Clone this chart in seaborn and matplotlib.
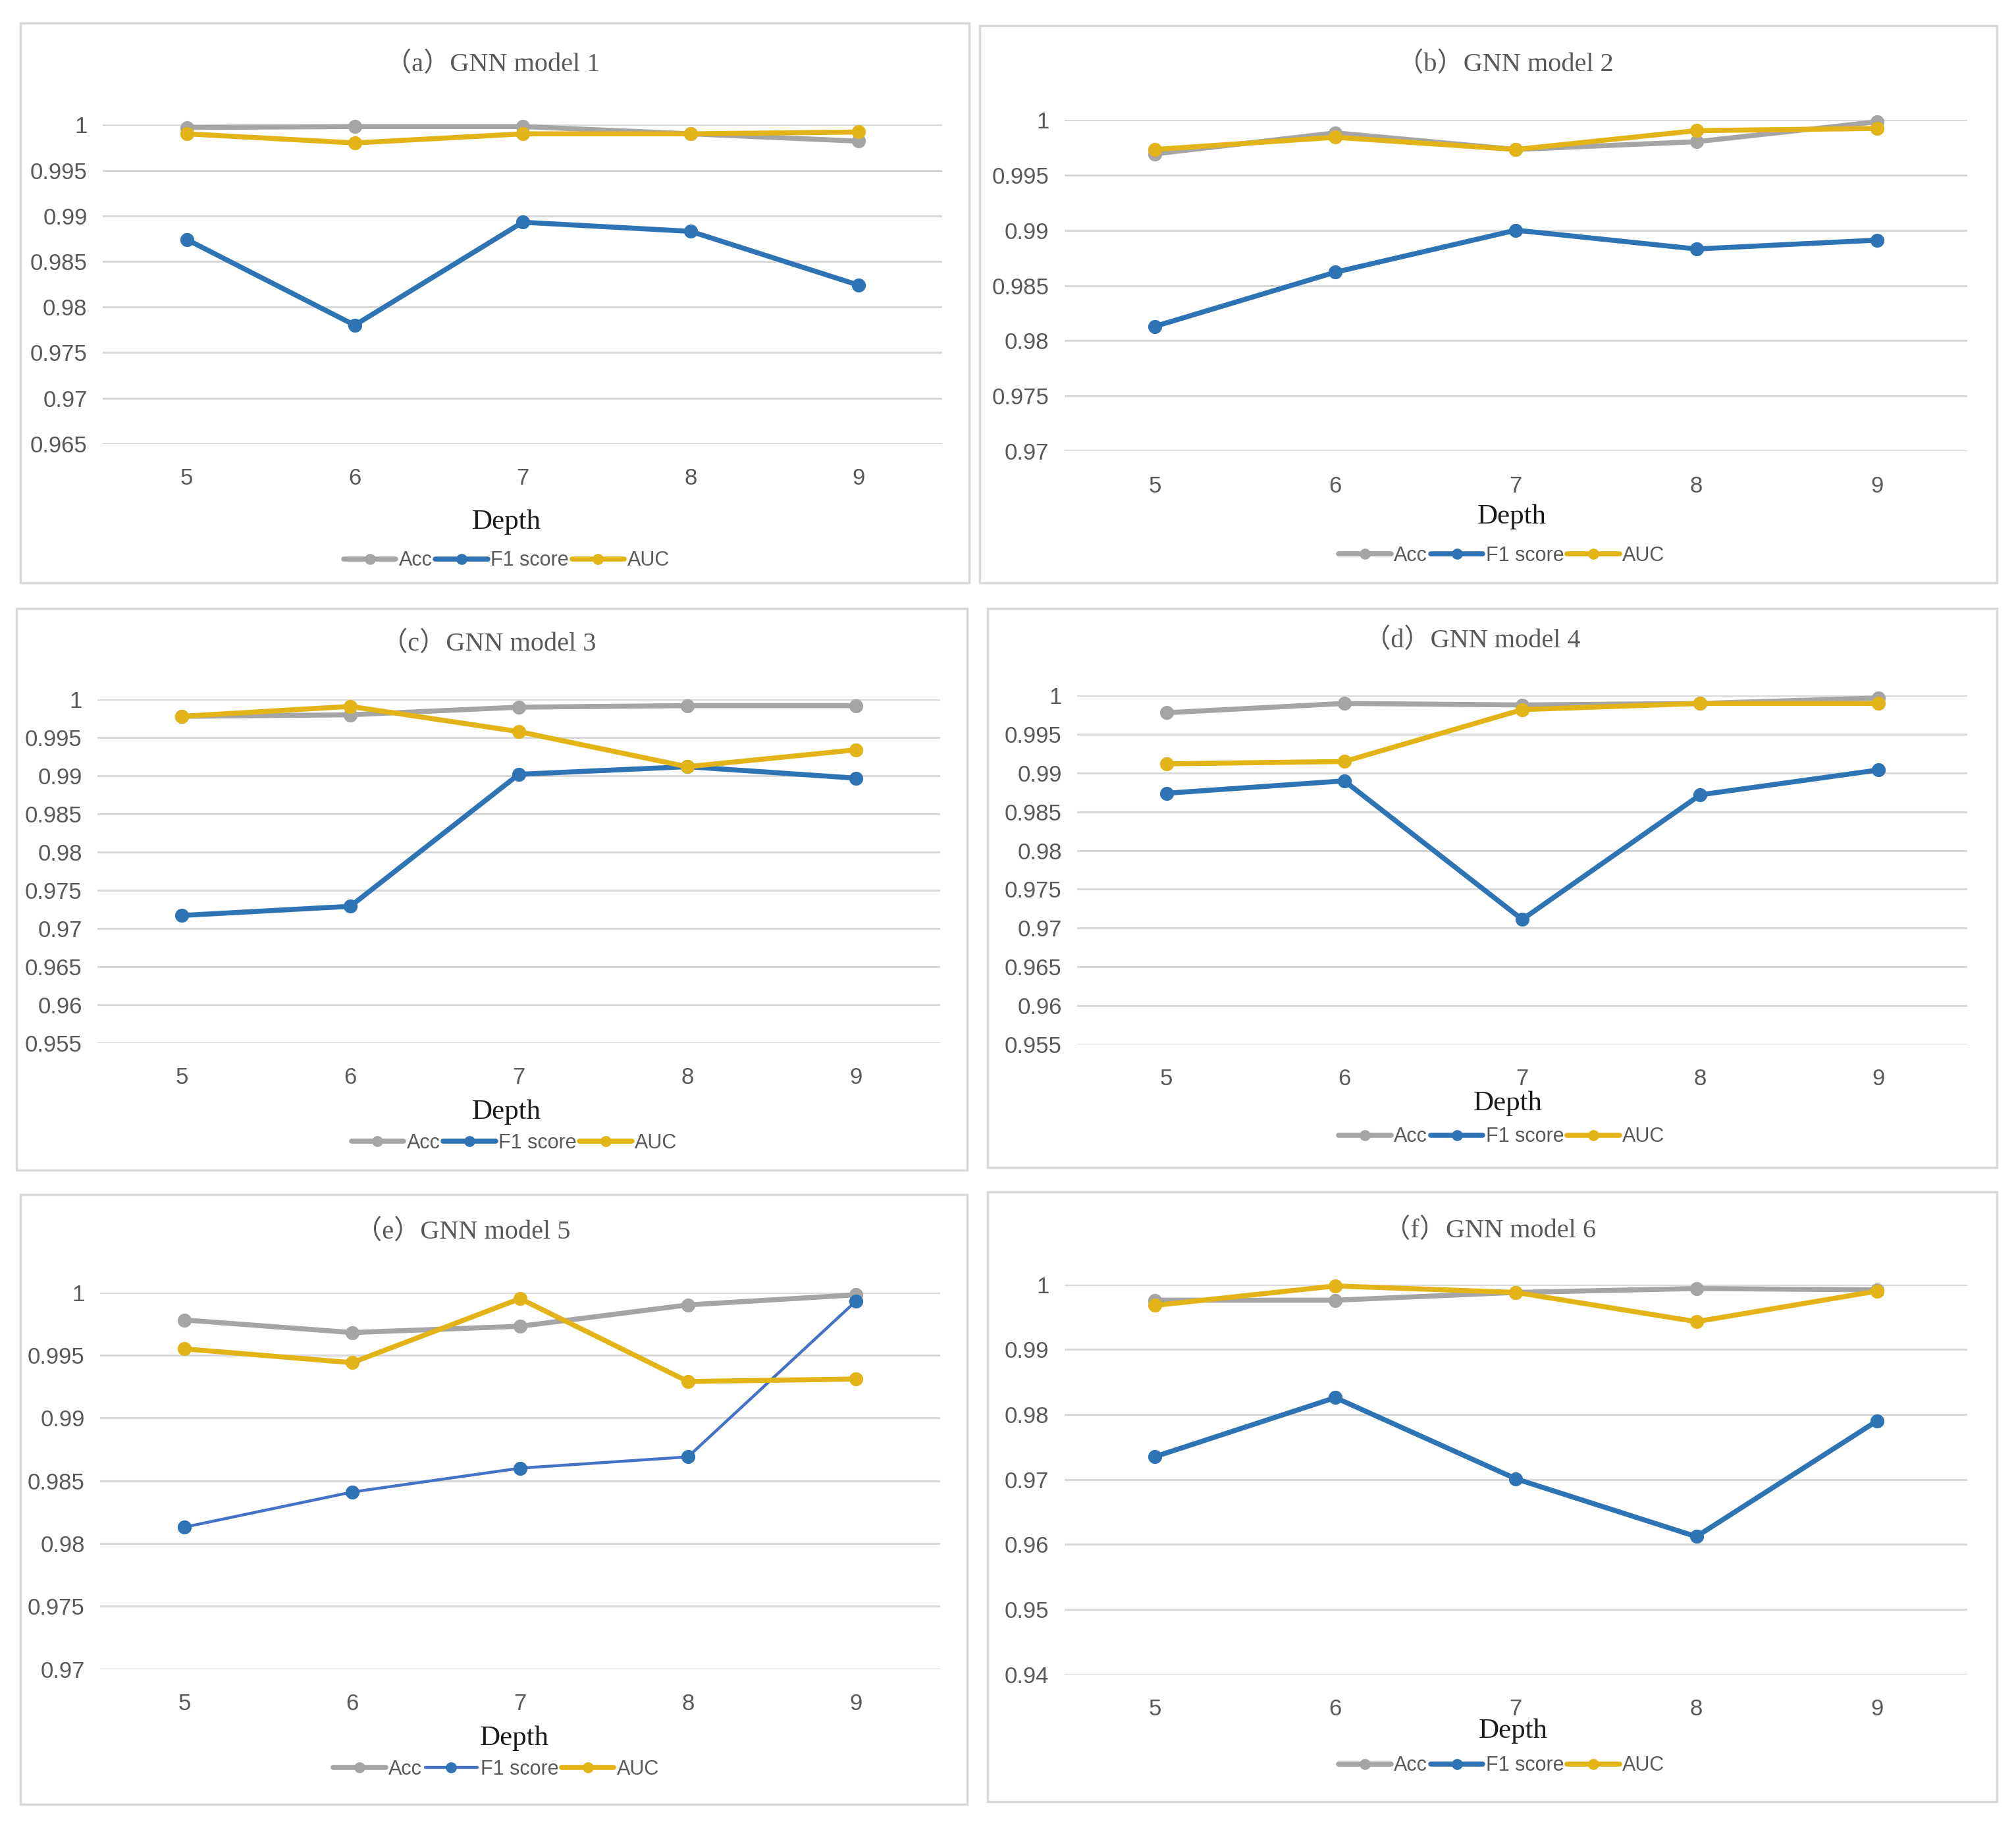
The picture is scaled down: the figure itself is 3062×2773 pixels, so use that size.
import matplotlib
matplotlib.use("Agg")
import matplotlib.pyplot as plt
from matplotlib.patches import Rectangle
from matplotlib.lines import Line2D
import seaborn as sns
import numpy as np
import pandas as pd

sns.set_theme(style="white")

depth = [5, 6, 7, 8, 9]
metrics = ["Acc", "F1 score", "AUC"]

a_acc = [0.9997, 0.9998, 0.9998, 0.9990, 0.9982]
a_f1 = [0.9874, 0.9780, 0.9893, 0.9883, 0.9824]
a_auc = [0.9990, 0.9980, 0.9990, 0.9990, 0.9992]

b_acc = [0.9969, 0.9988, 0.9973, 0.9980, 0.9998]
b_f1 = [0.9813, 0.9862, 0.9900, 0.9883, 0.9891]
b_auc = [0.9973, 0.9984, 0.9973, 0.9990, 0.9992]

c_acc = [0.9978, 0.9980, 0.9990, 0.9992, 0.9992]
c_f1 = [0.9717, 0.9729, 0.9902, 0.9912, 0.9897]
c_auc = [0.9978, 0.9991, 0.9958, 0.9912, 0.9934]

d_acc = [0.9978, 0.9990, 0.9988, 0.9990, 0.9997]
d_f1 = [0.9874, 0.9890, 0.9711, 0.9872, 0.9904]
d_auc = [0.9912, 0.9915, 0.9982, 0.9990, 0.9990]

e_acc = [0.9978, 0.9968, 0.9973, 0.9990, 0.9998]
e_f1 = [0.9813, 0.9841, 0.9860, 0.9869, 0.9993]
e_auc = [0.9955, 0.9944, 0.9995, 0.9929, 0.9931]

f_acc = [0.9976, 0.9976, 0.9988, 0.9994, 0.9992]
f_f1 = [0.9735, 0.9826, 0.9701, 0.9612, 0.9790]
f_auc = [0.9968, 0.9998, 0.9988, 0.9943, 0.9990]

titles = ["（a）GNN model 1", "（b）GNN model 2", "（c）GNN model 3",
          "（d）GNN model 4", "（e）GNN model 5", "（f）GNN model 6"]
y_ticks = [
    [0.965, 0.97, 0.975, 0.98, 0.985, 0.99, 0.995, 1.0],
    [0.97, 0.975, 0.98, 0.985, 0.99, 0.995, 1.0],
    [0.955, 0.96, 0.965, 0.97, 0.975, 0.98, 0.985, 0.99, 0.995, 1.0],
    [0.955, 0.96, 0.965, 0.97, 0.975, 0.98, 0.985, 0.99, 0.995, 1.0],
    [0.97, 0.975, 0.98, 0.985, 0.99, 0.995, 1.0],
    [0.94, 0.95, 0.96, 0.97, 0.98, 0.99, 1.0],
]
y_labels = [[f"{v:g}" for v in t] for t in y_ticks]
panel_data = [
    (a_acc, a_f1, a_auc), (b_acc, b_f1, b_auc), (c_acc, c_f1, c_auc),
    (d_acc, d_f1, d_auc), (e_acc, e_f1, e_auc), (f_acc, f_f1, f_auc),
]

# layout in reference display units (1568 x 1420)
W, H = 1568.0, 1420.0
boxes = [(16, 18, 754, 453), (762, 20, 1553, 453), (13, 473, 752, 910),
         (768, 473, 1553, 908), (16, 929, 752, 1403), (768, 927, 1553, 1401)]
plots = [(80, 97, 733, 345), (828, 93, 1530, 351), (76, 544, 731, 811),
         (838, 541, 1530, 812), (78, 1005, 731, 1298), (828, 999, 1530, 1302)]
title_pos = [(383, 50), (1171, 50), (380, 501), (1145, 498), (360, 958), (1159, 957)]
depth_pos = [(394, 406), (1176, 402), (394, 865), (1173, 858), (400, 1352), (1177, 1346)]
legend_pos = [(394, 436), (1168, 432), (400, 889), (1168, 884), (386, 1376), (1168, 1373)]

colors = {"Acc": "#A5A5A5", "F1 score": "#2E74B5", "AUC": "#E3B417"}

sans = ["Liberation Sans", "DejaVu Sans"]
serif = ["Liberation Serif", "Noto Sans CJK SC", "DejaVu Serif"]
plt.rcParams["font.family"] = sans

fig = plt.figure(figsize=(30.62, 27.73), dpi=100)
fig.patch.set_facecolor("white")

def fx(x):
    return x / W

def fy(y):
    return 1 - y / H

for i in range(6):
    bx0, by0, bx1, by1 = boxes[i]
    fig.patches.append(Rectangle((fx(bx0), fy(by1)), fx(bx1) - fx(bx0), fy(by0) - fy(by1),
                                 transform=fig.transFigure, fill=False,
                                 edgecolor="#D9D9D9", linewidth=2.5, zorder=0))
    px0, py0, px1, py1 = plots[i]
    ax = fig.add_axes([fx(px0), fy(py1), fx(px1) - fx(px0), fy(py0) - fy(py1)])
    ax.set_facecolor("none")
    acc, f1, auc = panel_data[i]
    df = pd.DataFrame({"Depth": depth * 3,
                       "value": list(acc) + list(f1) + list(auc),
                       "metric": ["Acc"] * 5 + ["F1 score"] * 5 + ["AUC"] * 5})
    for m in metrics:
        sub = df[df["metric"] == m]
        lw = 5.5
        lc = colors[m]
        if i == 4 and m == "F1 score":
            lw = 3.2
            lc = "#4472C4"
        sns.lineplot(data=sub, x="Depth", y="value", ax=ax, color=lc, linewidth=lw,
                     marker="o", markersize=14.5, markerfacecolor=colors[m],
                     markeredgecolor=colors[m], clip_on=False, legend=False, zorder=3)
    ax.set_xlim(4.5, 9.5)
    ax.set_ylim(y_ticks[i][0], y_ticks[i][-1])
    ax.set_yticks(y_ticks[i])
    ax.set_yticklabels(y_labels[i])
    ax.set_xticks(depth)
    ax.set_xticklabels([str(d) for d in depth])
    ax.grid(axis="y", color="#D9D9D9", linewidth=2.2, zorder=0)
    ax.grid(axis="x", visible=False)
    ax.set_axisbelow(True)
    for s in ax.spines.values():
        s.set_visible(False)
    ax.tick_params(axis="y", length=0, pad=17, labelsize=25, labelcolor="#595959")
    ax.tick_params(axis="x", length=0, pad=26, labelsize=25, labelcolor="#595959")
    ax.set_xlabel("")
    ax.set_ylabel("")
    fig.text(fx(title_pos[i][0]), fy(title_pos[i][1]), titles[i], ha="center", va="center",
             fontsize=29, color="#595959", family=serif)
    fig.text(fx(depth_pos[i][0]), fy(depth_pos[i][1]), "Depth", ha="center", va="center",
             fontsize=31, color="#1a1a1a", family=serif)
    handles = []
    for m in metrics:
        lw = 5.5
        lc = colors[m]
        if i == 4 and m == "F1 score":
            lw = 3.2
            lc = "#4472C4"
        handles.append(Line2D([0], [0], color=lc, linewidth=lw, marker="o", markersize=11,
                              markerfacecolor=colors[m], markeredgecolor=colors[m]))
    fig.legend(handles, metrics, loc="center",
               bbox_to_anchor=(fx(legend_pos[i][0]), fy(legend_pos[i][1])),
               ncol=3, frameon=False, fontsize=22, labelcolor="#595959",
               handlelength=2.6, handletextpad=0.15, columnspacing=0.15,
               borderpad=0, borderaxespad=0)

fig.savefig("out.png", dpi=100, facecolor="white")
